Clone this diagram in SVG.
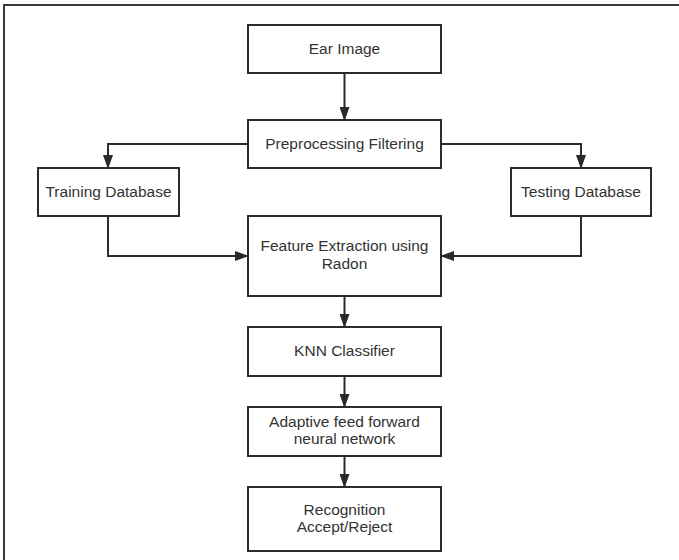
<svg xmlns="http://www.w3.org/2000/svg" width="679" height="560" viewBox="0 0 679 560">
<defs>
<style>
.box{fill:#fff;stroke:#2a2a2a;stroke-width:2}
.lbl{font-family:"Liberation Sans",Arial,sans-serif;font-size:15.5px;fill:#333;text-anchor:middle}
.con{fill:none;stroke:#2a2a2a;stroke-width:2}
.frame{stroke:#3a3a3a;stroke-width:2;fill:none}
</style>
<marker id="ah" viewBox="0 0 14 10" refX="13" refY="5" markerWidth="14" markerHeight="10" markerUnits="userSpaceOnUse" orient="auto">
<path d="M0,0 L14,5 L0,10 z" fill="#2a2a2a"/>
</marker>
</defs>
<rect width="679" height="560" fill="#fff"/>
<path class="frame" d="M4,560 L4,5 L679,5"/>
<g id="connectors">
<path class="con" d="M344.5,73 L344.5,120" marker-end="url(#ah)"/>
<path class="con" d="M248,144 L108,144 L108,168" marker-end="url(#ah)"/>
<path class="con" d="M441,144 L581,144 L581,168" marker-end="url(#ah)"/>
<path class="con" d="M108,216 L108,256 L248,256" marker-end="url(#ah)"/>
<path class="con" d="M581,216 L581,256 L441,256" marker-end="url(#ah)"/>
<path class="con" d="M344.5,296 L344.5,327" marker-end="url(#ah)"/>
<path class="con" d="M344.5,376 L344.5,407" marker-end="url(#ah)"/>
<path class="con" d="M344.5,456 L344.5,487" marker-end="url(#ah)"/>
</g>
<g id="ear-image">
<rect class="box" x="248" y="25" width="193" height="48"/>
<text class="lbl" x="344.5" y="54">Ear Image</text>
</g>
<g id="preprocessing">
<rect class="box" x="248" y="120" width="193" height="48"/>
<text class="lbl" x="344.5" y="149">Preprocessing Filtering</text>
</g>
<g id="training-db">
<rect class="box" x="38" y="168" width="141" height="48"/>
<text class="lbl" x="108.5" y="197">Training Database</text>
</g>
<g id="testing-db">
<rect class="box" x="511" y="168" width="140" height="48"/>
<text class="lbl" x="581" y="197">Testing Database</text>
</g>
<g id="feature-extraction">
<rect class="box" x="248" y="216" width="193" height="80"/>
<text class="lbl" x="344.5" y="251">Feature Extraction using</text>
<text class="lbl" x="344.5" y="269">Radon</text>
</g>
<g id="knn">
<rect class="box" x="248" y="327" width="193" height="49"/>
<text class="lbl" x="344.5" y="356">KNN Classifier</text>
</g>
<g id="adaptive-ffnn">
<rect class="box" x="248" y="407" width="193" height="49"/>
<text class="lbl" x="344.5" y="427">Adaptive feed forward</text>
<text class="lbl" x="344.5" y="444">neural network</text>
</g>
<g id="recognition">
<rect class="box" x="248" y="487" width="193" height="64"/>
<text class="lbl" x="344.5" y="515">Recognition</text>
<text class="lbl" x="344.5" y="532">Accept/Reject</text>
</g>
</svg>
